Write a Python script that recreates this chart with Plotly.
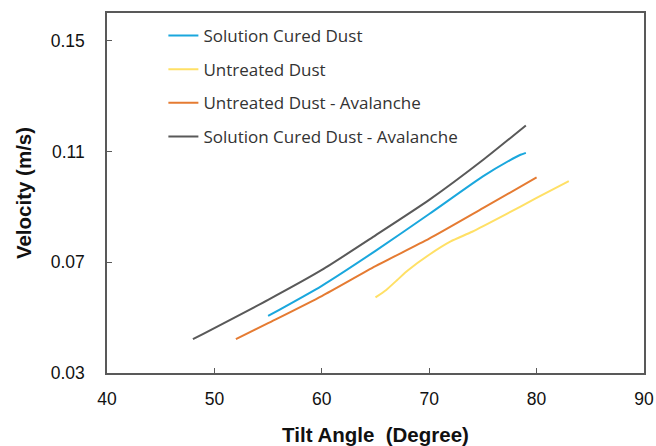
import plotly.graph_objects as go

# Data
sc_x = [55, 60, 65, 70, 75, 77.5, 78.5, 79]
sc_y = [0.0506, 0.0615, 0.0741, 0.0874, 0.1010, 0.1068, 0.1088, 0.1095]

ut_x = [65, 66, 67, 68, 70, 72, 74, 77, 80, 83]
ut_y = [0.0573, 0.0600, 0.0635, 0.0670, 0.0727, 0.0775, 0.0810, 0.0870, 0.0932, 0.0993]

uta_x = [52, 55, 60, 65, 70, 75, 80]
uta_y = [0.0422, 0.0480, 0.0578, 0.0686, 0.0785, 0.0895, 0.1006]

sca_x = [48, 55, 60, 65, 70, 75, 79]
sca_y = [0.0422, 0.0564, 0.0672, 0.0797, 0.0925, 0.1069, 0.1194]

names = ["Solution Cured Dust", "Untreated Dust", "Untreated Dust - Avalanche",
         "Solution Cured Dust - Avalanche"]
colors = ["#1AA7DD", "#FFE066", "#E57B32", "#595959"]

x_ticks = [40, 50, 60, 70, 80, 90]
y_ticks = [0.03, 0.07, 0.11, 0.15]

fig = go.Figure()
for i, (xs, ys) in enumerate([(sc_x, sc_y), (ut_x, ut_y), (uta_x, uta_y), (sca_x, sca_y)]):
    fig.add_trace(go.Scatter(
        x=xs, y=ys, mode="lines", name=names[i], legendgroup=str(i),
        line=dict(color=colors[i], width=2, shape="spline", smoothing=0.6),
    ))

fig.update_layout(
    width=656, height=446,
    margin=dict(l=107, r=12, t=13, b=73),
    paper_bgcolor="white", plot_bgcolor="white",
    showlegend=True,
    legend=dict(
        x=0.105, y=0.986, xanchor="left", yanchor="top",
        bgcolor="rgba(0,0,0,0)", tracegroupgap=8.5,
        font=dict(family="Open Sans, sans-serif", size=17, color="#333333"),
        itemwidth=30,
    ),
    xaxis=dict(
        range=[40, 90], tickvals=x_ticks, ticktext=[str(v) for v in x_ticks],
        showline=True, linecolor="#595959", linewidth=1.5, mirror=True,
        ticks="inside", ticklen=5, tickcolor="#595959", showgrid=False, zeroline=False,
        automargin=False, ticklabelstandoff=9,
        tickfont=dict(family="Liberation Sans, Arial, sans-serif", size=17.5, color="#111111"),
        title=dict(text="<b>Tilt Angle&nbsp; (Degree)</b>", standoff=21,
                   font=dict(family="Liberation Sans, Arial, sans-serif", size=20.5, color="#111111")),
    ),
    yaxis=dict(
        range=[0.03, 0.16], tickvals=y_ticks, ticktext=["0.03", "0.07", "0.11", "0.15"],
        showline=True, linecolor="#595959", linewidth=1.5, mirror=True,
        ticks="inside", ticklen=5, tickcolor="#595959", showgrid=False, zeroline=False,
        automargin=False, ticklabelstandoff=17,
        tickfont=dict(family="Liberation Sans, Arial, sans-serif", size=17.5, color="#111111"),
        title=dict(text="<b>Velocity (m/s)</b>", standoff=14,
                   font=dict(family="Liberation Sans, Arial, sans-serif", size=20.5, color="#111111")),
    ),
)

fig.write_html("out.html")
